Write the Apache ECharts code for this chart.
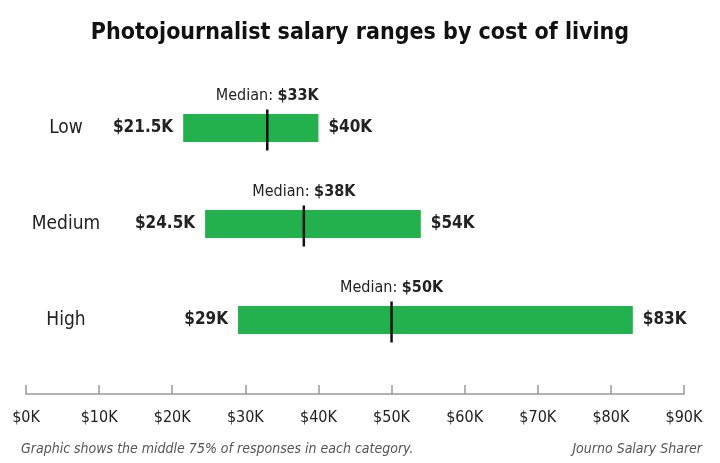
<!DOCTYPE html>
<html>
<head>
<meta charset="utf-8">
<script src="https://cdn.jsdelivr.net/npm/echarts@6/dist/echarts.min.js"></script>
<style>
  html, body { margin: 0; padding: 0; background: #fff; }
  #chart { width: 720px; height: 463px; }
</style>
</head>
<body>
<div id="chart"></div>
<script>
// salary ranges (thousands of dollars), middle 75% of responses
const categories = ['Low', 'Medium', 'High'];
const lowValues = [21.5, 24.5, 29];
const highValues = [40, 54, 83];
const medianValues = [33, 38, 50];
const tickValues = [0, 10, 20, 30, 40, 50, 60, 70, 80, 90];

const font = "'Liberation Sans Narrow', 'DejaVu Sans Condensed', 'Open Sans', sans-serif";
const green = '#22b14c';

const fmtK = v => '$' + v + 'K';

const chart = echarts.init(document.getElementById('chart'));

chart.setOption({
    animation: false,
    textStyle: { fontFamily: font },
    title: [{
        text: 'Photojournalist salary ranges by cost of living',
        left: 'center', top: 17,
        textStyle: { fontFamily: font, fontSize: 23, fontWeight: 'bold', color: '#111' },
    }, {
        text: 'Graphic shows the middle 75% of responses in each category.',
        left: 16, top: 437,
        textStyle: { fontFamily: font, fontSize: 14, fontStyle: 'italic', fontWeight: 'normal', color: '#555' },
    }, {
        text: 'Journo Salary Sharer',
        right: 13, top: 437,
        textStyle: { fontFamily: font, fontSize: 14, fontStyle: 'italic', fontWeight: 'normal', color: '#555' },
    }],
    grid: { left: 26, right: 36, top: 80, height: 288 },
    xAxis: {
        type: 'value', min: 0, max: 90, interval: 10,
        offset: 26,
        axisLine: { show: true, lineStyle: { color: '#999', width: 1.5 } },
        axisTick: { show: true, inside: true, length: 9, lineStyle: { color: '#999', width: 1.5 } },
        splitLine: { show: false },
        axisLabel: {
            margin: 16, fontSize: 16, color: '#222', fontFamily: font,
            customValues: tickValues,
            formatter: fmtK,
        },
    },
    yAxis: {
        type: 'category', data: categories, inverse: true,
        axisLine: { show: false }, axisTick: { show: false },
        axisLabel: { align: 'center', margin: -40, fontSize: 19, color: '#222', fontFamily: font },
    },
    series: [{
        type: 'bar', stack: 'range', barWidth: 28,
        data: lowValues,
        itemStyle: { color: 'transparent' },
        label: {
            show: true, position: 'insideRight', distance: 10,
            fontSize: 17, fontWeight: 'bold', color: '#222', fontFamily: font,
            formatter: p => fmtK(p.value),
        },
        silent: true,
    }, {
        type: 'bar', stack: 'range', barWidth: 28,
        data: highValues.map((h, i) => h - lowValues[i]),
        itemStyle: { color: green },
        label: {
            show: true, position: 'right', distance: 10,
            fontSize: 17, fontWeight: 'bold', color: '#222', fontFamily: font,
            formatter: p => fmtK(highValues[p.dataIndex]),
        },
    }, {
        type: 'scatter',
        data: medianValues.map((m, i) => [m, categories[i]]),
        symbol: 'rect', symbolSize: [2.5, 41], symbolOffset: [0, 2],
        itemStyle: { color: '#111', opacity: 1 },
        z: 5,
        label: {
            show: true, position: 'top', distance: 6, color: '#222',
            formatter: p => '{a|Median: }{b|' + fmtK(p.value[0]) + '}',
            rich: {
                a: { fontSize: 16, color: '#222', fontFamily: font },
                b: { fontSize: 16, fontWeight: 'bold', color: '#222', fontFamily: font },
            },
        },
    }],
});
</script>
</body>
</html>
